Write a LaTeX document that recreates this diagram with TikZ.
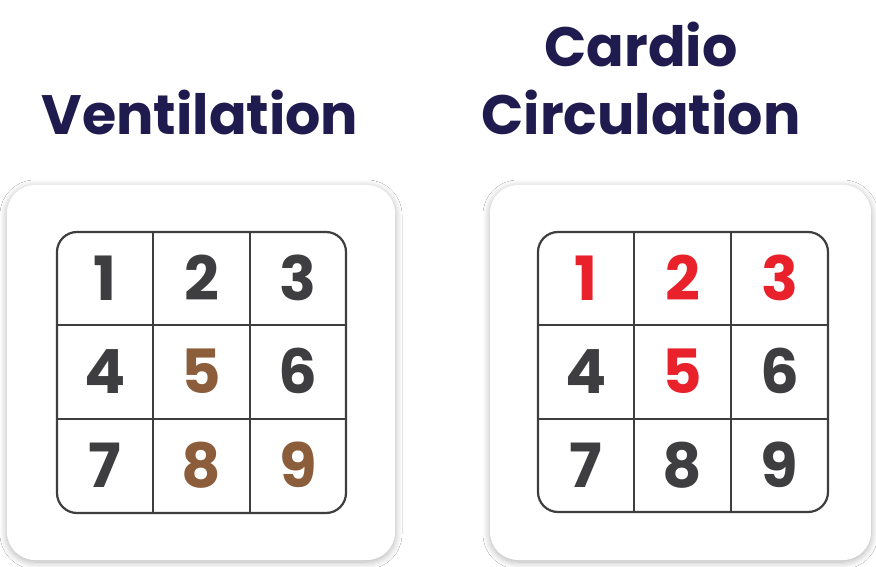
\documentclass[tikz,border=0pt]{standalone}
\usepackage{fontspec}
\setmainfont{Poppins}
\usetikzlibrary{shadows.blur}
\definecolor{navy}{RGB}{32,27,78}
\definecolor{digitgray}{RGB}{62,61,64}
\definecolor{brownish}{RGB}{139,93,59}
\definecolor{redish}{RGB}{232,33,43}
\tikzset{
  card/.style={fill=white,rounded corners=28pt,
    blur shadow={shadow xshift=0pt,shadow yshift=-2pt,shadow scale=1.0,shadow blur radius=7pt,shadow blur steps=10,shadow opacity=30}},
  grid/.style={draw=digitgray,line width=2.2pt},
  title/.style={text=navy,font=\fontsize{55.5}{60}\selectfont\bfseries,anchor=base},
  digit/.style={text=digitgray,font=\fontsize{61}{61}\selectfont\bfseries,anchor=base,inner sep=0pt}
}
\begin{document}
\begin{tikzpicture}[x=1pt,y=-1pt]
  \useasboundingbox[fill=white] (0,0) rectangle (876,567);

  % titles
  \node[title] (ventT) at (200,135) {Ventilation};
  \node[title] (cardT) at (641,67) {Cardio};
  \node[title] (circT) at (641,135) {Circulation};

  % cards
  \path[card] (7,185) rectangle (395,560);
  \path[card] (490,185) rectangle (871,560);

  % left grid
  \draw[grid,rounded corners=20pt] (57,232) rectangle (346,513);
  \draw[grid] (153,232) -- (153,513);
  \draw[grid] (250,232) -- (250,513);
  \draw[grid] (57,325) -- (346,325);
  \draw[grid] (57,419) -- (346,419);

  \node[digit] (v1) at (105,300) {1};
  \node[digit] (v2) at (201.5,300) {2};
  \node[digit] (v3) at (298,300) {3};
  \node[digit] (v4) at (105,393.5) {4};
  \node[digit,text=brownish] (v5) at (201.5,393.5) {5};
  \node[digit] (v6) at (298,393.5) {6};
  \node[digit] (v7) at (105,487.5) {7};
  \node[digit,text=brownish] (v8) at (201.5,487.5) {8};
  \node[digit,text=brownish] (v9) at (298,487.5) {9};

  % right grid
  \draw[grid,rounded corners=20pt] (538,232) rectangle (828,512);
  \draw[grid] (634,232) -- (634,512);
  \draw[grid] (731,232) -- (731,512);
  \draw[grid] (538,325) -- (828,325);
  \draw[grid] (538,419) -- (828,419);

  \node[digit,text=redish] (c1) at (586,300) {1};
  \node[digit,text=redish] (c2) at (682.5,300) {2};
  \node[digit,text=redish] (c3) at (779.5,300) {3};
  \node[digit] (c4) at (586,393.5) {4};
  \node[digit,text=redish] (c5) at (682.5,393.5) {5};
  \node[digit] (c6) at (779.5,393.5) {6};
  \node[digit] (c7) at (586,487.5) {7};
  \node[digit] (c8) at (682.5,487.5) {8};
  \node[digit] (c9) at (779.5,487.5) {9};
\end{tikzpicture}
\end{document}
